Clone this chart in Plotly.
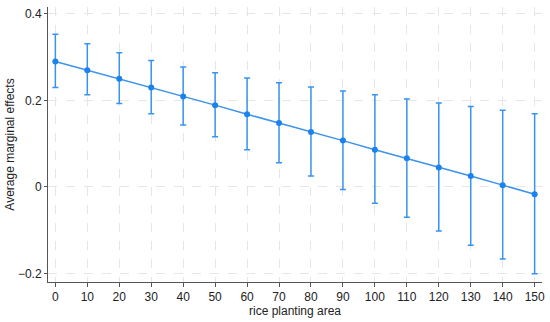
import plotly.graph_objects as go

area = [0, 10, 20, 30, 40, 50, 60, 70, 80, 90, 100, 110, 120, 130, 140, 150]
ame = [0.290, 0.270, 0.250, 0.230, 0.209, 0.189, 0.168, 0.148, 0.127, 0.107, 0.086, 0.066, 0.045, 0.025, 0.004, -0.017]
upper = [0.353, 0.331, 0.310, 0.292, 0.277, 0.264, 0.252, 0.241, 0.231, 0.222, 0.213, 0.203, 0.194, 0.186, 0.177, 0.169]
lower = [0.230, 0.213, 0.193, 0.169, 0.143, 0.116, 0.086, 0.056, 0.025, -0.006, -0.038, -0.070, -0.102, -0.135, -0.167, -0.201]

err_plus = [u - m for u, m in zip(upper, ame)]
err_minus = [m - l for m, l in zip(ame, lower)]

line_color = "#3a93ec"
marker_color = "#1c82ec"

fig = go.Figure()
fig.add_trace(go.Scatter(
    x=area, y=ame, mode="lines+markers",
    line=dict(color=line_color, width=1.5),
    marker=dict(color=marker_color, size=6),
    error_y=dict(type="data", symmetric=False, array=err_plus, arrayminus=err_minus,
                 color=line_color, thickness=1.5, width=3),
    showlegend=False,
))

fig.update_layout(
    width=550, height=322,
    margin=dict(l=48, r=8, t=7, b=40, autoexpand=False),
    paper_bgcolor="white", plot_bgcolor="white",
    font=dict(family="Liberation Sans, Arial, sans-serif", size=12, color="#222222"),
    xaxis=dict(
        range=[-2.3, 152.3], tickvals=area, ticktext=[str(a) for a in area],
        showline=True, linecolor="#555555", linewidth=1,
        ticks="outside", ticklen=4, tickcolor="#555555",
        showgrid=True, gridcolor="#e6e6e6", griddash="dash", gridwidth=1,
        zeroline=False, automargin=False,
        title=dict(text="rice planting area", font=dict(size=12), standoff=2),
    ),
    yaxis=dict(
        range=[-0.22, 0.416], tickvals=[-0.2, 0, 0.2, 0.4], ticktext=["\u22120.2", "0", "0.2", "0.4"],
        showline=True, linecolor="#555555", linewidth=1,
        ticks="outside", ticklen=3, tickcolor="#555555",
        showgrid=True, gridcolor="#e6e6e6", griddash="dash", gridwidth=1,
        zeroline=False, automargin=False,
        title=dict(text="Average marginal effects", font=dict(size=12), standoff=0),
    ),
)

fig.write_html("out.html", config={"displayModeBar": False},
               post_script="document.body.style.margin='0';document.body.style.padding='0';")
